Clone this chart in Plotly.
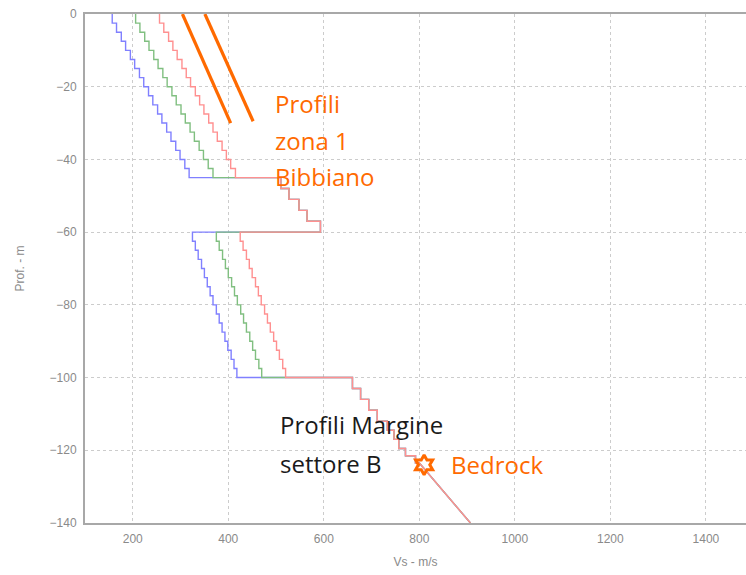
import plotly.graph_objects as go

# ---- data ----
zone1_depths = [0, 2.5, 5, 7.5, 10, 12.5, 15, 17.5, 20, 22.5, 25, 27.5, 30, 32.5, 35, 37.5, 40, 42.5, 45]
zone1_blue = [157, 166, 176, 185, 195, 204, 214, 223, 233, 242, 252, 261, 271, 280, 290, 299, 309, 318]
zone1_green = [206, 215, 225, 234, 244, 253, 263, 272, 282, 291, 301, 310, 320, 329, 339, 348, 358, 368]
zone1_red = [256, 265, 275, 284, 293, 303, 312, 321, 331, 340, 349, 359, 368, 377, 387, 396, 405, 415]

stiff_depths = [45, 48, 51, 54, 57, 60]
stiff_vs = [510, 527, 548, 565, 593]

zone2_depths = [60, 62.5, 65, 67.5, 70, 72.5, 75, 77.5, 80, 82.5, 85, 87.5, 90, 92.5, 95, 97.5, 100]
zone2_blue = [325, 331, 337, 344, 350, 356, 362, 368, 375, 381, 387, 393, 399, 406, 412, 418]
zone2_green = [375, 381, 388, 394, 400, 407, 413, 419, 426, 432, 438, 445, 451, 457, 464, 470]
zone2_red = [425, 431, 438, 444, 450, 457, 463, 469, 476, 482, 488, 495, 501, 507, 514, 520]

bed_depths = [100, 103, 106, 109, 112, 114.5, 117, 119.5, 121.5, 123.5]
bed_vs = [660, 677, 694, 712, 733, 747, 757, 771, 792]
bed_grad_depths = [123.5, 140]
bed_grad_vs = [800, 907]

zona1_line_a_vs = [304, 405]
zona1_line_a_depth = [0, -30]
zona1_line_b_vs = [351, 452]
zona1_line_b_depth = [0, -29.5]

bedrock_vs = [810]
bedrock_depth = [-124]

x_ticks = [200, 400, 600, 800, 1000, 1200, 1400]
y_ticks = [0, -20, -40, -60, -80, -100, -120, -140]


def steps(depths, values):
    xs, ys = [], []
    for i, v in enumerate(values):
        xs += [v, v]
        ys += [-depths[i], -depths[i + 1]]
    return xs, ys


def profile(z1, z2):
    xs, ys = [], []
    for d, v in ((zone1_depths, z1), (stiff_depths, stiff_vs), (zone2_depths, z2), (bed_depths, bed_vs)):
        a, b = steps(d, v)
        xs += a
        ys += b
    xs += bed_grad_vs
    ys += [-d for d in bed_grad_depths]
    return xs, ys


fig = go.Figure()
for z1, z2, col in ((zone1_blue, zone2_blue, "#8080ff"),
                    (zone1_green, zone2_green, "#80bf80"),
                    (zone1_red, zone2_red, "#ff9090")):
    xs, ys = profile(z1, z2)
    fig.add_trace(go.Scatter(x=xs, y=ys, mode="lines", line=dict(color=col, width=1.4),
                             hoverinfo="skip", showlegend=False))

ORANGE = "#ff6a00"
for xv, yv in ((zona1_line_a_vs, zona1_line_a_depth), (zona1_line_b_vs, zona1_line_b_depth)):
    fig.add_trace(go.Scatter(x=xv, y=yv, mode="lines", line=dict(color=ORANGE, width=3.2),
                             showlegend=False, hoverinfo="skip"))

fig.add_trace(go.Scatter(x=bedrock_vs, y=bedrock_depth, mode="markers",
                         marker=dict(symbol="hexagram-open", size=15, color=ORANGE,
                                     line=dict(color=ORANGE, width=3)),
                         showlegend=False, hoverinfo="skip"))

FONT = "Open Sans, sans-serif"
texts = [
    ("Profili", 493, -24.7, ORANGE),
    ("zona 1", 493, -34.9, ORANGE),
    ("Bibbiano", 493, -44.8, ORANGE),
    ("Profili Margine", 505, -113.0, "#1a1a1a"),
    ("settore B", 505, -123.5, "#1a1a1a"),
    ("Bedrock", 862, -123.8, ORANGE),
]
for t, x, y, c in texts:
    fig.add_annotation(x=x, y=y, text=t, showarrow=False, xanchor="left", yanchor="middle",
                       font=dict(family=FONT, size=24, color=c))

fig.update_layout(
    width=746, height=575,
    margin=dict(l=85, r=0, t=14, b=52),
    paper_bgcolor="white", plot_bgcolor="white",
    font=dict(family="Liberation Sans, Arial, sans-serif", color="#8a8a8a", size=12),
    xaxis=dict(range=[100, 1484], tickvals=x_ticks, showgrid=True, gridcolor="#cccccc",
               griddash="dot", gridwidth=1, zeroline=False, showline=True, linecolor="#a8a8a8",
               linewidth=2, mirror=True, ticks="", ticklabelstandoff=4,
               title=dict(text="Vs - m/s", standoff=12, font=dict(size=12, color="#8a8a8a"))),
    yaxis=dict(range=[-140, 0], tickvals=y_ticks, showgrid=True, gridcolor="#cccccc",
               griddash="dot", gridwidth=1, zeroline=False, showline=True, linecolor="#a8a8a8",
               linewidth=2, mirror=False, ticks="", ticklabelstandoff=4,
               title=dict(text="Prof. - m", standoff=22, font=dict(size=12, color="#8a8a8a"))),
)

fig.write_html("out.html", config={"displayModeBar": False},
               post_script="document.body.style.margin='0';")
